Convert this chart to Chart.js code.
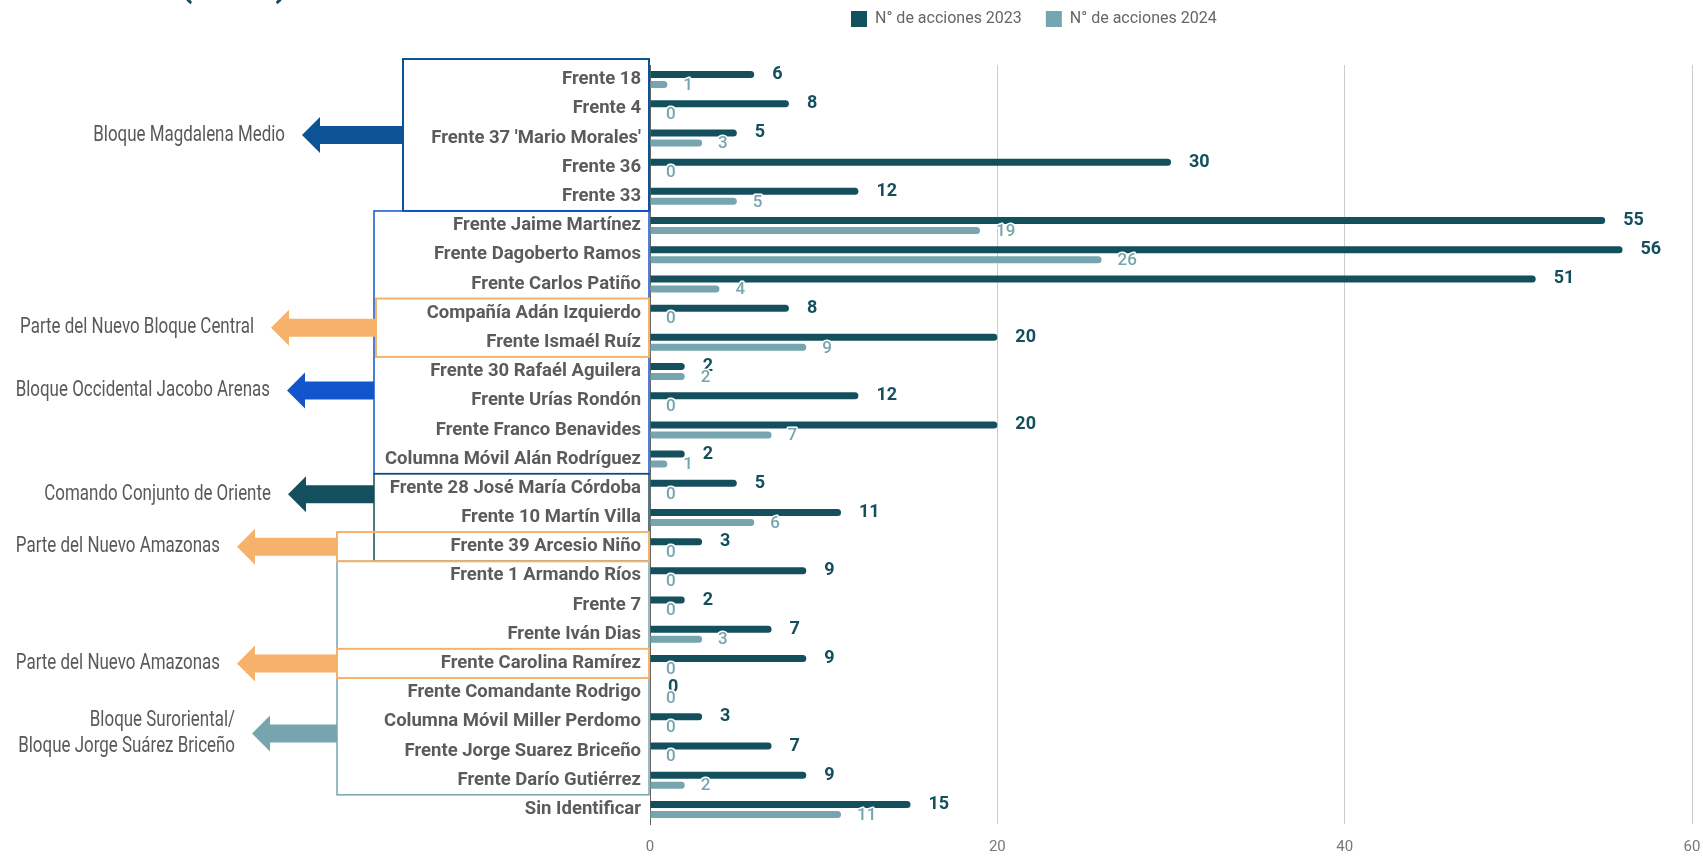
<!DOCTYPE html>
<html lang="es">
<head>
<meta charset="utf-8">
<title>Acciones por frente 2023 - 2024</title>
<script src="https://cdn.jsdelivr.net/npm/chart.js@4.4.1/dist/chart.umd.min.js"></script>
<style>
  html, body { margin: 0; padding: 0; background: #fff; }
  #wrap { width: 1703px; height: 856px; }
</style>
</head>
<body>
<div id="wrap"><canvas id="accionesChart" width="1703" height="856"></canvas></div>
<script>
const frentes = [
  "Frente 18", "Frente 4", "Frente 37 'Mario Morales'", "Frente 36", "Frente 33",
  "Frente Jaime Martínez", "Frente Dagoberto Ramos", "Frente Carlos Patiño",
  "Compañía Adán Izquierdo", "Frente Ismaél Ruíz", "Frente 30 Rafaél Aguilera",
  "Frente Urías Rondón", "Frente Franco Benavides", "Columna Móvil Alán Rodríguez",
  "Frente 28 José María Córdoba", "Frente 10 Martín Villa", "Frente 39 Arcesio Niño",
  "Frente 1 Armando Ríos", "Frente 7", "Frente Iván Dias", "Frente Carolina Ramírez",
  "Frente Comandante Rodrigo", "Columna Móvil Miller Perdomo",
  "Frente Jorge Suarez Briceño", "Frente Darío Gutiérrez", "Sin Identificar",
];
const acciones2023 = [6, 8, 5, 30, 12, 55, 56, 51, 8, 20, 2, 12, 20, 2, 5, 11, 3, 9, 2, 7, 9, 0, 3, 7, 9, 15];
const acciones2024 = [1, 0, 3, 0, 5, 19, 26, 4, 0, 9, 2, 0, 7, 1, 0, 6, 0, 0, 0, 3, 0, 0, 0, 0, 2, 11];
const seriesNames = ["N° de acciones 2023", "N° de acciones 2024"];
const xMax = 60;
const xStep = 20;

// bloques marcados a la izquierda: texto y filas (primera, última)
const bloqueTextos = [
  ["Bloque Magdalena Medio"],
  ["Bloque Occidental Jacobo Arenas"],
  ["Comando Conjunto de Oriente"],
  ["Bloque Suroriental/", "Bloque Jorge Suárez Briceño"],
  ["Parte del Nuevo Bloque Central"],
  ["Parte del Nuevo Amazonas"],
  ["Parte del Nuevo Amazonas"],
];
const bloqueFilas = [[0, 4], [5, 13], [14, 16], [17, 24], [8, 9], [16, 16], [20, 20]];
const tituloCortado = "(2024)";

const color2023 = "#134f5c";
const color2024 = "#76a5af";

// dibujo de cajas y flechas (posiciones en px, fila de la flecha)
const bloqueEstilos = [
  { color: "#0b5394", left: 403, tip: 302, arrowRow: 1.9, extraTop: 6, line: 2 },
  { color: "#1155cc", left: 374, tip: 287, arrowRow: 10.65, extraTop: 0, line: 1.5 },
  { color: "#134f5c", left: 374, tip: 288, arrowRow: 14.2, extraTop: 0, line: 1.5 },
  { color: "#76a5af", left: 337, tip: 252, arrowRow: 22.4, extraTop: 0, line: 1.5 },
  { color: "#f6b26b", left: 376, tip: 271, arrowRow: 8.5, extraTop: 0, line: 2 },
  { color: "#f6b26b", left: 337, tip: 237, arrowRow: 16, extraTop: 0, line: 2 },
  { color: "#f6b26b", left: 337, tip: 237, arrowRow: 20, extraTop: 0, line: 2 },
];

Chart.defaults.font.family = "Roboto, 'Noto Sans', sans-serif";

const legendPlacement = {
  id: "legendPlacement",
  beforeInit(chart) {
    const origFit = chart.legend.fit;
    chart.legend.fit = function () {
      origFit.call(this);
      this.height = 65;
    };
  },
  afterLayout(chart) {
    chart.legend.left = 827;
    chart.legend.top = -13;
  },
};

const valueLabels = {
  id: "valueLabels",
  afterDatasetsDraw(chart) {
    const ctx = chart.ctx;
    ctx.save();
    ctx.textAlign = "left";
    ctx.textBaseline = "middle";
    ctx.lineJoin = "round";
    ctx.strokeStyle = "#ffffff";
    ctx.lineWidth = 3;
    chart.data.datasets.forEach((ds, di) => {
      const meta = chart.getDatasetMeta(di);
      const first = di === 0;
      ctx.font = first ? "bold 18px Roboto" : "500 17px Roboto";
      ctx.fillStyle = first ? color2023 : color2024;
      meta.data.forEach((bar, i) => {
        const txt = String(ds.data[i]);
        const x = bar.x + (first ? 18 : 16);
        const y = bar.y + (first ? 0 : 1);
        ctx.strokeText(txt, x, y);
        ctx.fillText(txt, x, y);
      });
    });
    ctx.restore();
  },
};

function drawArrow(ctx, fromX, tipX, y, color) {
  const head = 18, shaft = 9, half = 18;
  ctx.fillStyle = color;
  ctx.beginPath();
  ctx.moveTo(fromX, y - shaft);
  ctx.lineTo(tipX + head, y - shaft);
  ctx.lineTo(tipX + head, y - half);
  ctx.lineTo(tipX, y);
  ctx.lineTo(tipX + head, y + half);
  ctx.lineTo(tipX + head, y + shaft);
  ctx.lineTo(fromX, y + shaft);
  ctx.closePath();
  ctx.fill();
}

const bloques = {
  id: "bloques",
  afterDraw(chart) {
    const ctx = chart.ctx;
    const yScale = chart.scales.y;
    const band = yScale.getPixelForValue(1) - yScale.getPixelForValue(0);
    const right = chart.chartArea.left - 1;
    ctx.save();
    bloqueFilas.forEach((filas, i) => {
      const st = bloqueEstilos[i];
      const top = yScale.getPixelForValue(filas[0]) - band / 2 - st.extraTop;
      const bottom = yScale.getPixelForValue(filas[1]) + band / 2;
      const ay = yScale.getPixelForValue(0) + st.arrowRow * band;

      drawArrow(ctx, st.left, st.tip, ay, st.color);

      ctx.strokeStyle = st.color;
      ctx.lineWidth = st.line;
      ctx.strokeRect(st.left, top, right - st.left, bottom - top);

      ctx.fillStyle = "#595959";
      ctx.font = "22px Roboto";
      ctx.textAlign = "right";
      ctx.textBaseline = "middle";
      const lines = bloqueTextos[i];
      lines.forEach((line, k) => {
        const ly = ay + (k - (lines.length - 1) / 2) * 26;
        ctx.save();
        ctx.translate(st.tip - 17, ly);
        ctx.scale(0.77, 1);
        ctx.fillText(line, 0, 0);
        ctx.restore();
      });
    });

    // título superior, cortado en el borde
    ctx.fillStyle = color2023;
    ctx.font = "bold 36px Roboto";
    ctx.textAlign = "center";
    ctx.textBaseline = "alphabetic";
    ctx.fillText(tituloCortado, 234, -4);
    ctx.restore();
  },
};

const ctxAcciones = document.getElementById("accionesChart").getContext("2d");
const accionesChart = new Chart(ctxAcciones, {
  type: "bar",
  data: {
    labels: frentes,
    datasets: [{
      label: seriesNames[0],
      data: acciones2023,
      backgroundColor: color2023,
      borderWidth: 0,
      borderRadius: 4,
      categoryPercentage: 0.685,
      barPercentage: 0.7,
    }, {
      label: seriesNames[1],
      data: acciones2024,
      backgroundColor: color2024,
      borderWidth: 0,
      borderRadius: 4,
      categoryPercentage: 0.685,
      barPercentage: 0.7,
    }],
  },
  options: {
    indexAxis: "y",
    responsive: false,
    animation: false,
    layout: { padding: { left: 0, right: 0, top: 0, bottom: 0 } },
    scales: {
      x: {
        min: 0,
        max: xMax,
        ticks: {
          stepSize: xStep,
          padding: 14,
          color: "#777777",
          font: { size: 15 },
        },
        grid: { color: "#cccccc", drawTicks: false },
        border: { display: false },
        afterFit: (scale) => {
          scale.height = 32;
          scale.paddingLeft = 0;
          scale.paddingRight = 11;
        },
      },
      y: {
        ticks: {
          padding: 9,
          color: "#5b5b5b",
          font: { size: 18.5, weight: "bold" },
          autoSkip: false,
        },
        grid: { display: false, drawTicks: false },
        border: { display: true, color: "#666666", width: 1 },
        afterFit: (scale) => { scale.width = 650; },
      },
    },
    plugins: {
      legend: {
        position: "top",
        align: "start",
        labels: {
          boxWidth: 16,
          boxHeight: 16,
          padding: 24,
          color: "#666666",
          font: { size: 16 },
        },
      },
      tooltip: { enabled: false },
    },
  },
  plugins: [legendPlacement, valueLabels, bloques],
});
</script>
</body>
</html>
